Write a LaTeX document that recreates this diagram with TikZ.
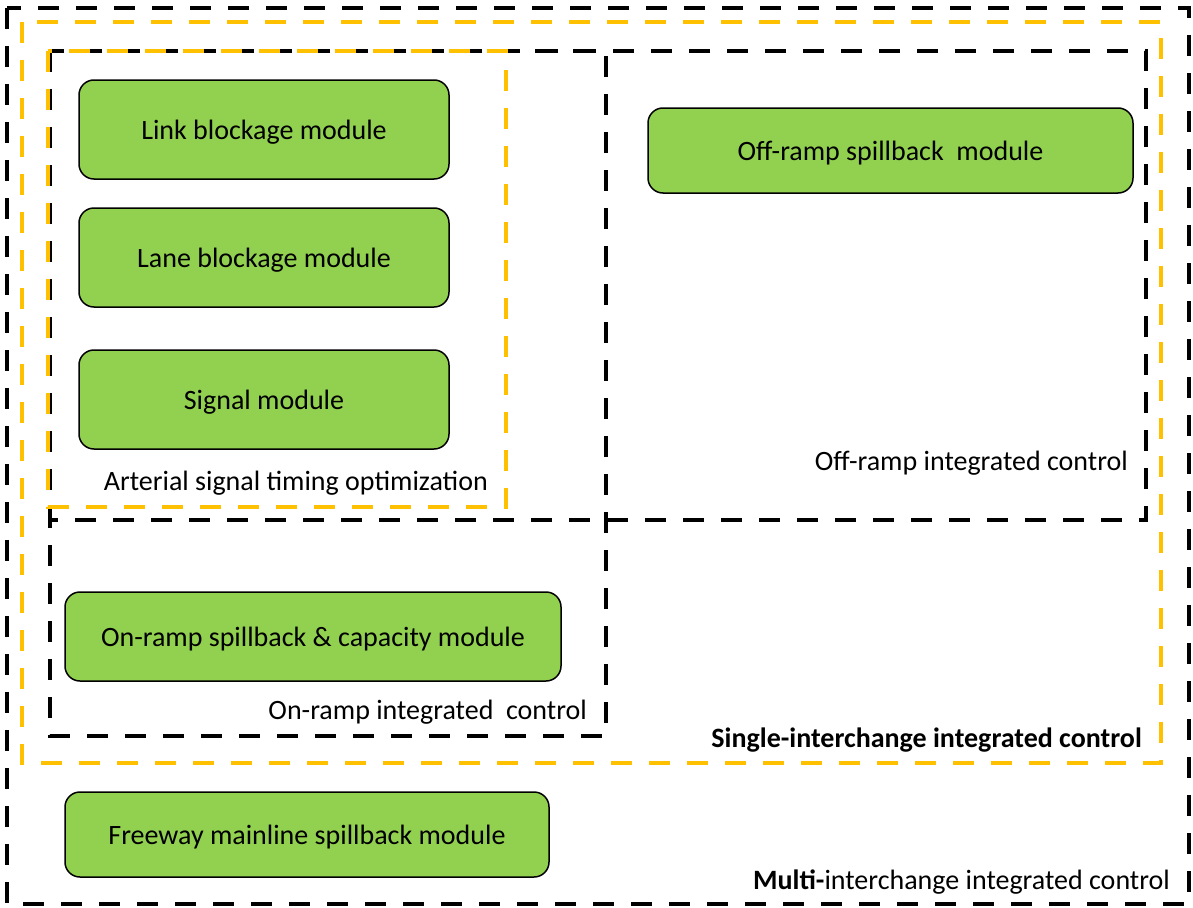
\documentclass[tikz,border=0pt]{standalone}
\usepackage{fontspec}
\setmainfont{Carlito}

\begin{document}
\begin{tikzpicture}[x=1pt,y=-1pt]

% Colori
\definecolor{modGreen}{HTML}{92D050}
\definecolor{frameGold}{HTML}{FFC000}

\tikzset{
  module/.style={draw=black, line width=1.5pt, fill=modGreen, rounded corners=15pt,
    inner sep=0pt, text height=23pt, text depth=3pt, font=\fontsize{28}{32}\selectfont},
  blackframe/.style={draw=black, line width=4pt, dash pattern=on 21pt off 17pt},
  goldframe/.style={draw=frameGold, line width=4pt, dash pattern=on 21pt off 17pt},
  caption/.style={inner sep=0pt, anchor=east, font=\fontsize{28}{32}\selectfont}
}

\useasboundingbox (0,0) rectangle (1193,907);

% Cornici tratteggiate
\draw[blackframe] (7,8) rectangle (1189,904);
\draw[goldframe] (22,22) rectangle (1161,763);
\draw[blackframe] (50,51) rectangle (1146,520);
\draw[blackframe] (50,51) rectangle (606,736);
\draw[goldframe] (48,51) rectangle (506,507);

% Moduli
\node[module, minimum width=370pt, minimum height=99pt] (link) at (264,129.5) {Link blockage module};
\node[module, minimum width=370pt, minimum height=99pt] (lane) at (264,257.5) {Lane blockage module};
\node[module, minimum width=370pt, minimum height=99pt] (signal) at (264,399.5) {Signal module};
\node[module, minimum width=485pt, minimum height=85pt] (offramp) at (890.5,150.5) {Off-ramp spillback\ \ module};
\node[module, minimum width=496pt, minimum height=89pt] (onramp) at (313,636.5) {On-ramp spillback \& capacity module};
\node[module, minimum width=484pt, minimum height=85pt] (freeway) at (307,834.5) {Freeway mainline spillback module};

% Etichette dei livelli di controllo
\node[caption] (arterial) at (488,483) {Arterial signal timing optimization};
\node[caption] (offctrl) at (1128,463) {Off-ramp integrated control};
\node[caption] (onctrl) at (587,712) {On-ramp integrated\ \ control};
\node[caption, font=\fontsize{28}{32}\selectfont\bfseries] (single) at (1142,740) {Single-interchange integrated control};
\node[caption] (multi) at (1170,882) {\textbf{Multi-}interchange integrated control};

\end{tikzpicture}
\end{document}
